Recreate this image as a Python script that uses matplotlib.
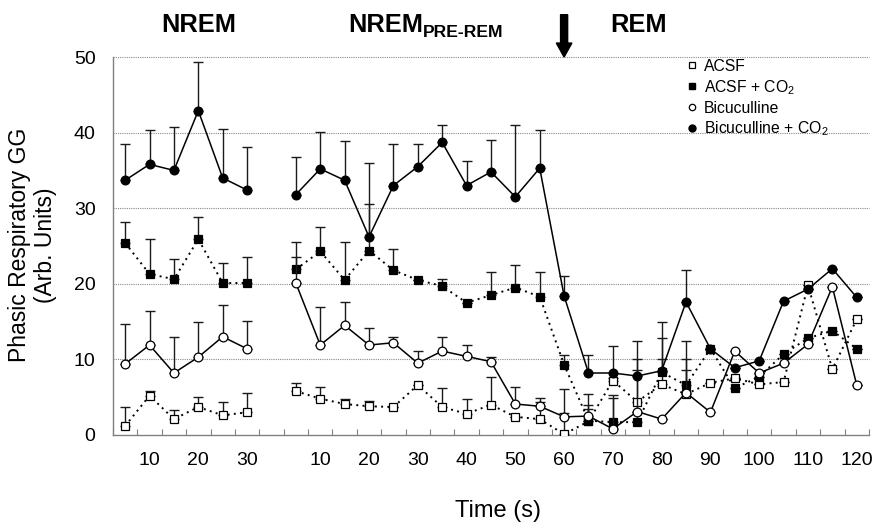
import matplotlib
matplotlib.use("Agg")
import matplotlib.pyplot as plt
from matplotlib.lines import Line2D
from matplotlib.patches import FancyArrow

plt.rcParams['font.family'] = ['Liberation Sans', 'DejaVu Sans']
plt.rcParams['mathtext.fontset'] = 'custom'
plt.rcParams['mathtext.rm'] = 'Liberation Sans'
plt.rcParams['mathtext.it'] = 'Liberation Sans:italic'
plt.rcParams['mathtext.bf'] = 'Liberation Sans:bold'

# time points (s)
nrem_t = [5, 10, 15, 20, 25, 30]
pre_t = [5, 10, 15, 20, 25, 30, 35, 40, 45, 50, 55, 60,
         65, 70, 75, 80, 85, 90, 95, 100, 105, 110, 115, 120]

# ACSF
acsf_nrem = [1.2, 5.2, 2.1, 3.7, 2.6, 3.0]
acsf_nrem_sem = [2.5, 0.6, 1.2, 1.3, 1.8, 2.6]
acsf_pre = [5.8, 4.8, 4.1, 3.8, 3.7, 6.6, 3.7, 2.8, 4.0, 2.4, 2.1, 0.1,
            1.8, 7.2, 4.4, 6.7, 5.4, 6.9, 7.5, 6.7, 7.0, 19.8, 8.7, 15.3]
acsf_pre_sem = [1.1, 1.5, 0.7, 0.7, 0, 0, 2.5, 2.0, 3.7, 0, 2.3, 2.8,
                1.6, 0.4, 4.2, 3.3, 4.6, 0, 0, 0, 0, 0, 0, 0]

# ACSF + CO2
co2_nrem = [25.4, 21.3, 20.6, 25.9, 20.1, 20.1]
co2_nrem_sem = [2.8, 4.6, 2.7, 2.9, 2.7, 3.4]
co2_pre = [21.9, 24.3, 20.5, 24.4, 21.8, 20.5, 19.7, 17.5, 18.5, 19.5, 18.3, 9.3,
           1.9, 1.7, 1.7, 8.3, 6.6, 11.4, 6.2, 7.7, 10.7, 12.8, 13.8, 11.4]
co2_pre_sem = [3.6, 3.2, 5.0, 6.1, 2.8, 0, 0.9, 0, 3.1, 3.0, 3.3, 1.3,
               3.5, 3.6, 8.3, 4.5, 5.8, 0, 0, 0, 0, 0, 0, 0]

# Bicuculline
bic_nrem = [9.4, 11.9, 8.2, 10.3, 13.0, 11.4]
bic_nrem_sem = [5.3, 4.5, 4.8, 4.6, 4.2, 3.7]
bic_pre = [20.1, 11.9, 14.5, 11.9, 12.2, 9.5, 11.1, 10.4, 9.7, 4.1, 3.8, 2.4,
           2.5, 0.8, 3.1, 2.1, 5.6, 3.0, 11.1, 8.2, 9.5, 12.0, 19.6, 6.6]
bic_pre_sem = [3.5, 5.0, 3.1, 2.3, 0.8, 1.6, 1.9, 1.5, 0.6, 2.2, 1.1, 3.7,
               1.5, 4.1, 0, 0, 3.0, 0, 0, 0, 0, 0, 0, 0]

# Bicuculline + CO2
bco2_nrem = [33.7, 35.8, 35.0, 42.9, 34.0, 32.4]
bco2_nrem_sem = [4.8, 4.5, 5.8, 6.4, 6.5, 5.7]
bco2_pre = [31.8, 35.2, 33.7, 26.2, 33.0, 35.5, 38.7, 33.0, 34.8, 31.5, 35.3, 18.4,
            8.2, 8.2, 7.8, 8.5, 17.6, 11.4, 8.9, 9.8, 17.7, 19.3, 22.0, 18.2]
bco2_pre_sem = [5.0, 4.9, 5.2, 9.8, 5.5, 3.0, 2.3, 3.2, 4.2, 9.5, 5.0, 2.6,
                2.4, 3.6, 4.6, 6.5, 4.2, 0, 0, 0, 0, 0, 0, 0]

nrem_ticks = [10, 20, 30]
pre_ticks = [10, 20, 30, 40, 50, 60, 70, 80, 90, 100, 110, 120]
y_ticks = [0, 10, 20, 30, 40, 50]


# category positions: NREM bins 0..5, gap, then pre-REM/REM bins 7..30
def nrem_x(t):
    return [v / 5 - 0.5 for v in t]


def pre_x(t):
    return [v / 5 + 6.5 for v in t]


fig = plt.figure(figsize=(8.77, 5.27), dpi=100)
ax = fig.add_axes([0.1288, 0.1746, 0.8620, 0.7172])

for g in y_ticks[1:]:
    ax.axhline(g, color='#8a8a8a', lw=0.8, ls=(0, (1, 1)), zorder=0, clip_on=False)

series = [
    (acsf_nrem, acsf_nrem_sem, acsf_pre, acsf_pre_sem, 's', 'white', (0, (1, 2.2))),
    (co2_nrem, co2_nrem_sem, co2_pre, co2_pre_sem, 's', 'black', (0, (1, 2.2))),
    (bic_nrem, bic_nrem_sem, bic_pre, bic_pre_sem, 'o', 'white', '-'),
    (bco2_nrem, bco2_nrem_sem, bco2_pre, bco2_pre_sem, 'o', 'black', '-'),
]

z = 2
for ynrem, enrem, ypre, epre, mk, fc, ls in series:
    for xs, ys, es in [(nrem_x(nrem_t), ynrem, enrem), (pre_x(pre_t), ypre, epre)]:
        ax.errorbar(xs, ys, yerr=[[0] * len(es), es], fmt='none', ecolor='#1a1a1a',
                    elinewidth=1.0, capsize=3.4, capthick=1.0, zorder=z)
        ax.plot(xs, ys, color='black', lw=1.1 if ls == '-' else 1.4, ls=ls,
                marker=mk, markersize=6.3, markerfacecolor=fc,
                markeredgecolor='black', markeredgewidth=0.9, zorder=z + 1)
    z += 2

ax.set_xlim(0, 31)
ax.set_ylim(0, 50)

ax.set_xticks(range(0, 32))
ax.set_xticklabels([])
ax.tick_params(axis='x', which='major', direction='in', length=4, width=0.8,
               color='#808080')
lab_pos = nrem_x(nrem_ticks) + pre_x(pre_ticks)
lab_txt = [str(t) for t in nrem_ticks] + [str(t) for t in pre_ticks]
ax.set_xticks(lab_pos, minor=True)
ax.set_xticklabels(lab_txt, minor=True, fontsize=14)
ax.tick_params(axis='x', which='minor', length=0, pad=12.5)

ax.set_yticks(y_ticks)
ax.tick_params(axis='y', length=0, pad=12.5, labelsize=14)

for s in ['top', 'right']:
    ax.spines[s].set_visible(False)
for s in ['left', 'bottom']:
    ax.spines[s].set_color('#808080')
    ax.spines[s].set_linewidth(1.0)

fig.text(0.037, 0.535, 'Phasic Respiratory GG\n(Arb. Units)', rotation=90,
         ha='center', va='center', fontsize=16.5, linespacing=1.12)
fig.text(0.568, 0.030, 'Time (s)', ha='center', va='center', fontsize=17)

top_y = 1 - 32 / 527
fig.text(199 / 877, top_y, 'NREM', ha='center', va='baseline', fontsize=18.3,
         fontweight='bold')
fig.text(348 / 877, top_y, 'NREM', ha='left', va='baseline', fontsize=18.3,
         fontweight='bold')
fig.text(423 / 877, 1 - 37 / 527, 'PRE-REM', ha='left', va='baseline', fontsize=12.6,
         fontweight='bold')
fig.text(639 / 877, top_y, 'REM', ha='center', va='baseline', fontsize=18.3,
         fontweight='bold')

x60 = pre_x([60])[0]
ax.add_patch(FancyArrow(x60, 55.6, 0, -5.6, width=0.29, head_width=0.64,
                        head_length=1.85, length_includes_head=True,
                        color='black', clip_on=False, zorder=10))

handles = [
    Line2D([], [], ls='none', marker='s', markersize=4.3, markerfacecolor='white',
           markeredgecolor='black', markeredgewidth=0.9),
    Line2D([], [], ls='none', marker='s', markersize=4.6, markerfacecolor='black',
           markeredgecolor='black'),
    Line2D([], [], ls='none', marker='o', markersize=4.6, markerfacecolor='white',
           markeredgecolor='black', markeredgewidth=0.9),
    Line2D([], [], ls='none', marker='o', markersize=5.0, markerfacecolor='black',
           markeredgecolor='black'),
]
labels = ['ACSF', 'ACSF + CO$_2$', 'Bicuculline', 'Bicuculline + CO$_2$']
ax.legend(handles, labels, loc='upper left', bbox_to_anchor=(0.775, 0.903),
          bbox_transform=fig.transFigure, frameon=False, borderpad=0,
          handlelength=0.6, handletextpad=0.45, labelspacing=0.25, fontsize=11.3)

fig.savefig('out.png', dpi=100)
